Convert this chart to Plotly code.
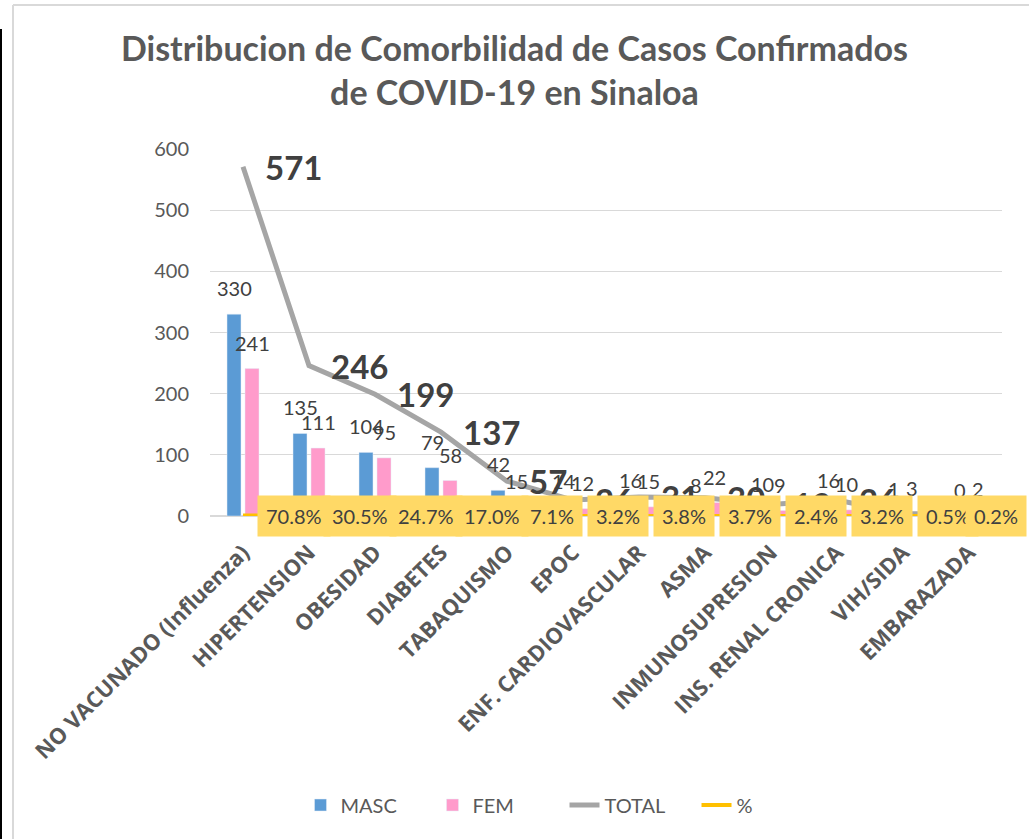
import plotly.graph_objects as go

categories = ["NO VACUNADO (Influenza)", "HIPERTENSION", "OBESIDAD", "DIABETES",
              "TABAQUISMO", "EPOC", "ENF. CARDIOVASCULAR", "ASMA",
              "INMUNOSUPRESION", "INS. RENAL CRONICA", "VIH/SIDA", "EMBARAZADA"]
masc = [330, 135, 104, 79, 42, 14, 16, 8, 10, 16, 1, 0]
fem = [241, 111, 95, 58, 15, 12, 15, 22, 9, 10, 3, 2]
total = [571, 246, 199, 137, 57, 26, 31, 30, 19, 26, 4, 2]
pct = [0.708, 0.305, 0.247, 0.170, 0.071, 0.032, 0.038, 0.037, 0.024, 0.032, 0.005, 0.002]
y_ticks = [0, 100, 200, 300, 400, 500, 600]

C_MASC = "#5B9BD5"
C_FEM = "#FF9BCB"
C_TOTAL = "#A5A5A5"
C_PCT = "#FFC000"
TXT = "#404040"
AX = "#595959"
FONT = "Lato, Open Sans, sans-serif"
TICKFONT = "Open Sans, Lato, sans-serif"

fig = go.Figure()
fig.add_trace(go.Bar(name="MASC", x=categories, y=masc, marker_color=C_MASC))
fig.add_trace(go.Bar(name="FEM", x=categories, y=fem, marker_color=C_FEM))
fig.add_trace(go.Scatter(name="TOTAL", x=categories, y=total, mode="lines",
                         line=dict(color=C_TOTAL, width=5)))
fig.add_trace(go.Scatter(name="%", x=categories, y=pct, mode="lines",
                         line=dict(color=C_PCT, width=4)))

ann = []
for c, v in zip(categories, masc):
    ann.append(dict(x=c, y=v, text=str(v), xshift=-9, yshift=12, yanchor="bottom",
                    showarrow=False, font=dict(family=FONT, size=20, color=TXT)))
for c, v in zip(categories, fem):
    ann.append(dict(x=c, y=v, text=str(v), xshift=9, yshift=12, yanchor="bottom",
                    showarrow=False, font=dict(family=FONT, size=20, color=TXT)))
for c, v in zip(categories, total):
    ann.append(dict(x=c, y=v, text="<b>%d</b>" % v, xshift=20, xanchor="left",
                    yanchor="middle", showarrow=False,
                    font=dict(family=FONT, size=33, color=TXT)))
n = len(categories)
for i, (c, v) in enumerate(zip(categories, pct)):
    last = i == n - 1
    ann.append(dict(x=c, y=v, text="%.1f%%" % (v * 100),
                    xshift=58 if last else 14, xanchor="right" if last else "left",
                    yanchor="middle", showarrow=False, bgcolor="#FFD966",
                    borderpad=8, font=dict(family=FONT, size=20, color=TXT)))

L, R, T, B = 210, 27, 149, 323
PW, PH = 1029 - L - R, 839 - T - B


def px(x):
    return (x - L) / PW


def py(y):
    return (839 - B - y) / PH


shapes = [
    dict(type="line", xref="paper", yref="paper", x0=px(13), x1=px(1029), y0=py(5), y1=py(5),
         line=dict(color="#D9D9D9", width=2)),
    dict(type="line", xref="paper", yref="paper", x0=px(13), x1=px(13), y0=py(5), y1=py(839),
         line=dict(color="#D9D9D9", width=2)),
    dict(type="line", xref="paper", yref="paper", x0=px(1), x1=px(1), y0=py(29), y1=py(839),
         line=dict(color="#000000", width=2)),
]

fig.update_layout(
    width=1029, height=839,
    margin=dict(l=L, r=R, t=T, b=B),
    paper_bgcolor="white", plot_bgcolor="white",
    barmode="group", bargap=0.4545, bargroupgap=0.222,
    font=dict(family=FONT, color=AX, size=20),
    title=dict(text="<b>Distribucion de Comorbilidad de Casos Confirmados<br>de COVID-19 en Sinaloa</b>",
               x=0.5, xref="container", xanchor="center",
               y=1 - 61 / 839, yref="container", yanchor="top",
               font=dict(family=FONT, size=34, color=AX)),
    xaxis=dict(tickangle=-45, showgrid=False, showline=True, linecolor="#D9D9D9",
               tickfont=dict(family=TICKFONT, size=22, color=AX, weight="bold"),
               ticks="", ticklabelstandoff=14, range=[-0.5, 11.5]),
    yaxis=dict(range=[0, 600], tickvals=y_ticks, gridcolor="#D9D9D9", showline=False,
               zeroline=True, zerolinecolor="#D9D9D9", ticks="", ticklabelstandoff=20,
               tickfont=dict(family=FONT, size=20, color=AX)),
    legend=dict(orientation="h", xref="container", x=0.5486, xanchor="center",
                yref="container", y=34 / 839, yanchor="middle",
                font=dict(family=FONT, size=20, color=AX), itemwidth=30,
                entrywidth=87, entrywidthmode="pixels"),
    annotations=ann,
    shapes=shapes,
    showlegend=True,
)

fig.write_html("out.html", config={"displayModeBar": False},
               post_script="document.body.style.margin='0px';")
